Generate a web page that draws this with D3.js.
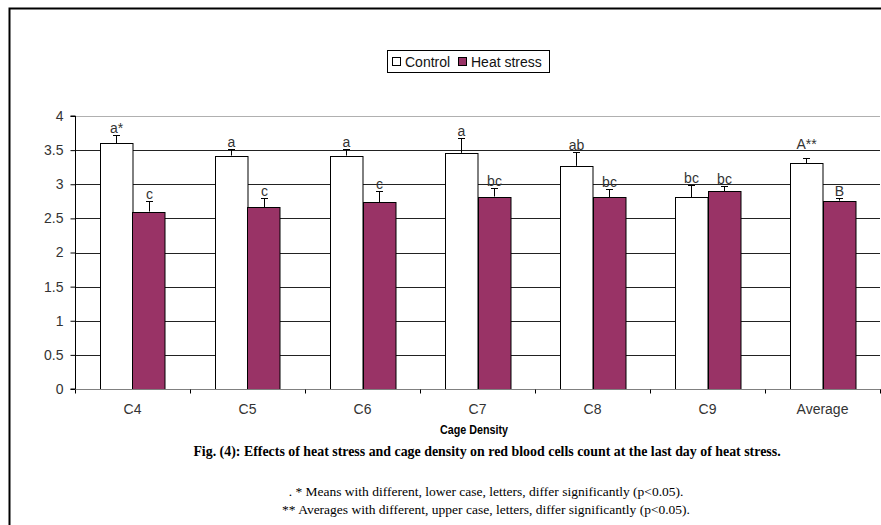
<!DOCTYPE html>
<html><head><meta charset="utf-8">
<script src="https://cdn.jsdelivr.net/npm/d3@7"></script>
<style>body{margin:0;background:#fff}svg{display:block}</style>
</head><body><svg id="c" width="881" height="525"></svg>
<script>
const categories = ["C4","C5","C6","C7","C8","C9","Average"];
const series = ["Control","Heat stress"];
const controlValues = [3.60,3.42,3.42,3.46,3.27,2.81,3.31];
const controlErrors = [0.12,0.10,0.10,0.22,0.20,0.18,0.08];
const controlLabels = ["a*","a","a","a","ab","bc","A**"];
const heatValues = [2.60,2.66,2.74,2.82,2.81,2.90,2.76];
const heatErrors = [0.15,0.14,0.16,0.12,0.12,0.07,0.04];
const heatLabels = ["c","c","c","bc","bc","bc","B"];
const yTicks = [0,0.5,1,1.5,2,2.5,3,3.5,4];
const colors = ["#ffffff","#993366"];
const xTitle = "Cage Density";
const caption = "Fig. (4): Effects of heat stress and cage density on red blood cells count at the last day of heat stress.";
const notes = [". * Means with different, lower case, letters, differ significantly (p<0.05).",
               "** Averages with different, upper case, letters, differ significantly (p<0.05)."];

const svg = d3.select("#c");
const L = 75, R = 880, T = 116, B = 389;
// frame
svg.append("path").attr("d","M9.5,525 V8.5 H881").attr("fill","none").attr("stroke","#000").attr("stroke-width",2);

const y = d3.scaleLinear().domain([0,4]).range([B,T]);
const x0 = d3.scaleBand().domain(categories).range([L,R]).paddingInner(0.4348).paddingOuter(0.2174);
const x1 = d3.scaleBand().domain(series).range([0,x0.bandwidth()]);

// gridlines
svg.append("g").selectAll("line").data(yTicks.filter(v=>v>0)).join("line")
  .attr("x1",L).attr("x2",R).attr("y1",d=>Math.round(y(d))+0.5).attr("y2",d=>Math.round(y(d))+0.5)
  .attr("stroke",d=>d===4?"#b0b0b0":"#222").attr("stroke-width",1);

const data = [];
categories.forEach((c,i)=>{
  data.push({c, s:series[0], v:controlValues[i], e:controlErrors[i], l:controlLabels[i], col:colors[0]});
  data.push({c, s:series[1], v:heatValues[i], e:heatErrors[i], l:heatLabels[i], col:colors[1]});
});

const g = svg.append("g");
g.selectAll("rect").data(data).join("rect")
  .attr("x",d=>Math.round(x0(d.c)+x1(d.s))+0.5)
  .attr("y",d=>Math.round(y(d.v))+0.5)
  .attr("width",x1.bandwidth())
  .attr("height",d=>Math.round(y(0))-Math.round(y(d.v)))
  .attr("fill",d=>d.col).attr("stroke","#000").attr("stroke-width",1);

// error bars (upward)
const eb = g.selectAll("g.eb").data(data).join("g").attr("class","eb");
const cx = d=>Math.round(x0(d.c)+x1(d.s)+x1.bandwidth()/2)+0.5;
eb.append("line").attr("x1",cx).attr("x2",cx)
  .attr("y1",d=>y(d.v)).attr("y2",d=>Math.round(y(d.v+d.e))+0.5).attr("stroke","#000");
eb.append("line").attr("x1",d=>cx(d)-3.5).attr("x2",d=>cx(d)+3.5)
  .attr("y1",d=>Math.round(y(d.v+d.e))+0.5).attr("y2",d=>Math.round(y(d.v+d.e))+0.5).attr("stroke","#000");
// significance labels
g.selectAll("text.sig").data(data).join("text").attr("class","sig")
  .attr("x",cx).attr("y",d=>y(d.v+d.e)-(d.l.length>2?9:2))
  .attr("text-anchor","middle").attr("font-family","Liberation Sans, Arial, sans-serif")
  .attr("font-size",14).attr("fill","#333").text(d=>d.l);

// y axis
const yAxis = d3.axisLeft(y).tickValues(yTicks).tickSize(5).tickPadding(7).tickFormat(d3.format("~g"));
const ya = svg.append("g").attr("transform",`translate(${L+0.5},0)`).call(yAxis);
ya.select(".domain").attr("d",`M-5,${T}H0V${B}H-5`).attr("stroke","#000");
ya.selectAll(".tick line").attr("stroke","#000");
ya.selectAll("text").attr("font-family","Liberation Sans, Arial, sans-serif").attr("font-size",14).attr("fill","#333");

// x axis
const xa = svg.append("g").attr("transform",`translate(0,${B+0.5})`);
xa.append("line").attr("x1",L).attr("x2",R+1).attr("stroke","#808080");
const bounds = categories.map(c=>x0(c)-x0.step()*x0.paddingInner()/2).concat([R]);
xa.selectAll("line.t").data(bounds).join("line").attr("class","t")
  .attr("x1",d=>Math.round(d)+0.5).attr("x2",d=>Math.round(d)+0.5).attr("y1",0).attr("y2",4).attr("stroke","#000");
xa.selectAll("text").data(categories).join("text")
  .attr("x",d=>x0(d)+x0.bandwidth()/2).attr("y",24)
  .attr("text-anchor","middle").attr("font-family","Liberation Sans, Arial, sans-serif")
  .attr("font-size",14).attr("fill","#333").text(d=>d);

svg.append("text").attr("x",440).attr("y",434)
  .attr("font-family","Liberation Sans, Arial, sans-serif").attr("font-weight","bold").attr("font-size",12.5)
  .attr("textLength",68).attr("lengthAdjust","spacingAndGlyphs").text(xTitle);

// legend
const lg = svg.append("g");
lg.append("rect").attr("x",387.5).attr("y",50.5).attr("width",162).attr("height",22).attr("fill","#fff").attr("stroke","#000");
const legItems = [{s:series[0],col:colors[0],x:392},{s:series[1],col:colors[1],x:458}];
legItems.forEach(it=>{
  lg.append("rect").attr("x",it.x+0.5).attr("y",57.5).attr("width",8).attr("height",8).attr("fill",it.col).attr("stroke","#000");
  lg.append("text").attr("x",it.x+13).attr("y",66.5).attr("font-family","Liberation Sans, Arial, sans-serif")
    .attr("font-size",14).attr("fill","#111").text(it.s);
});

// caption & notes
svg.append("text").attr("x",487).attr("y",456).attr("text-anchor","middle")
  .attr("font-family","Liberation Serif, Times New Roman, serif").attr("font-weight","bold").attr("font-size",13.9).text(caption);
notes.forEach((n,i)=>{
  svg.append("text").attr("x",486).attr("y",496+i*18).attr("text-anchor","middle")
    .attr("font-family","Liberation Serif, Times New Roman, serif").attr("font-size",13.5).text(n);
});
</script></body></html>
